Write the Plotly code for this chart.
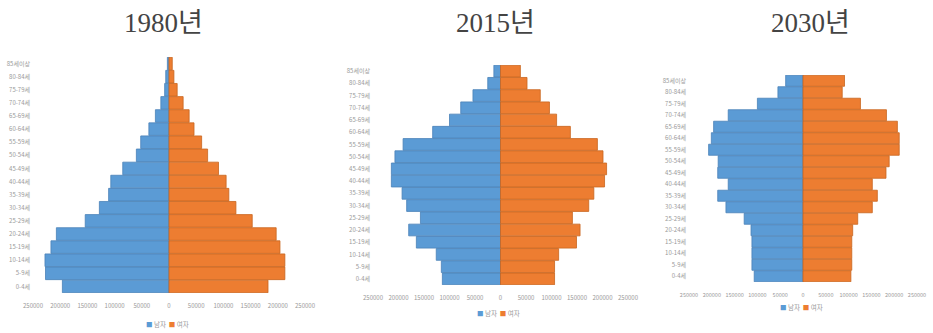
import plotly.graph_objects as go

# Age groups, bottom to top
ages = ["0-4세", "5-9세", "10-14세", "15-19세", "20-24세", "25-29세", "30-34세",
        "35-39세", "40-44세", "45-49세", "50-54세", "55-59세", "60-64세",
        "65-69세", "70-74세", "75-79세", "80-84세", "85세이상"]

years = ["1980년", "2015년", "2030년"]

male_1980 = [196000, 227000, 228000, 217000, 207000, 154000, 128000, 111000, 107000,
             85000, 60000, 52000, 37000, 25000, 15000, 8000, 6000, 3000]
female_1980 = [182000, 213000, 213000, 204000, 197000, 153000, 123000, 110000, 105000,
               91000, 71000, 60000, 46000, 37000, 26000, 15000, 9000, 6000]

male_2015 = [114000, 116000, 126000, 165000, 180000, 157000, 184000, 193000, 214000,
             214000, 207000, 191000, 133000, 100000, 78000, 54000, 25000, 13000]
female_2015 = [106000, 106000, 114000, 149000, 156000, 141000, 173000, 183000, 204000,
               208000, 201000, 190000, 137000, 110000, 96000, 78000, 52000, 39000]

male_2030 = [107000, 112000, 112000, 112000, 114000, 129000, 169000, 187000, 164000,
             187000, 186000, 207000, 201000, 196000, 164000, 100000, 55000, 38000]
female_2030 = [105000, 107000, 107000, 107000, 109000, 120000, 152000, 163000, 152000,
               182000, 189000, 211000, 211000, 207000, 183000, 126000, 86000, 91000]

tick_vals = [-250000, -200000, -150000, -100000, -50000, 0,
             50000, 100000, 150000, 200000, 250000]
tick_text = [str(abs(v)) for v in tick_vals]

series = [(male_1980, female_1980), (male_2015, female_2015), (male_2030, female_2030)]

W, H = 933, 333
# pixel layout of each panel: (x_left, x_right, y_top, y_bottom, title_x, legend_y, tick font)
panels = [
    (33, 305, 57, 293, 163, 324, 6),
    (373, 628, 65, 285, 495, 313, 6),
    (689, 917, 75, 282, 810, 307, 5.5),
]

BLUE, BLUE_EDGE = "#5B9BD5", "#4A82B8"
ORANGE, ORANGE_EDGE = "#ED7D31", "#C8661F"

fig = go.Figure()
layout = {}
annotations = []

for i, ((male, female), (xl, xr, yt, yb, tx, ly, fs)) in enumerate(zip(series, panels)):
    sfx = "" if i == 0 else str(i + 1)
    xa, ya = "x" + sfx, "y" + sfx
    fig.add_trace(go.Bar(
        y=ages, x=[-v for v in male], orientation="h", name="남자",
        marker=dict(color=BLUE, line=dict(color=BLUE_EDGE, width=0.8)),
        xaxis=xa, yaxis=ya, showlegend=False,
    ))
    fig.add_trace(go.Bar(
        y=ages, x=female, orientation="h", name="여자",
        marker=dict(color=ORANGE, line=dict(color=ORANGE_EDGE, width=0.8)),
        xaxis=xa, yaxis=ya, showlegend=False,
    ))
    layout["xaxis" + sfx] = dict(
        domain=[xl / W, xr / W], range=[-250000, 250000], anchor=ya,
        tickvals=tick_vals, ticktext=tick_text, showgrid=False, zeroline=False,
        showline=False, ticks="", tickfont=dict(size=fs, color="#999999"),
        ticklabelstandoff=8, ticklabeloverflow="allow", tickangle=0,
        automargin=False, fixedrange=True,
    )
    layout["yaxis" + sfx] = dict(
        domain=[1 - yb / H, 1 - yt / H], anchor=xa, type="category",
        categoryorder="array", categoryarray=ages, range=[-0.5, 17.5],
        showgrid=False, showline=False, ticks="", automargin=False,
        tickfont=dict(size=6, color="#999999"), ticklabelstandoff=2,
    )
    annotations.append(dict(
        text=years[i], x=tx / W, y=1 - 23 / H, xref="paper", yref="paper",
        xanchor="center", yanchor="middle", showarrow=False,
        font=dict(family="Liberation Serif, DejaVu Serif, Noto Sans CJK KR",
                  size=27, color="#444444"),
    ))
    annotations.append(dict(
        text=(f"<span style='color:{BLUE}'>■</span> 남자  "
              f"<span style='color:{ORANGE}'>■</span> 여자"),
        x=((xl + xr) / 2 - 2) / W, y=1 - ly / H, xref="paper", yref="paper",
        xanchor="center", yanchor="middle", showarrow=False,
        font=dict(family="Noto Sans CJK KR", size=6.5, color="#999999"),
    ))

fig.update_layout(
    width=W, height=H, margin=dict(l=0, r=0, t=0, b=0),
    paper_bgcolor="white", plot_bgcolor="white",
    barmode="relative", bargap=0.04,
    annotations=annotations,
    font=dict(family="Noto Sans CJK KR"),
    **layout,
)

fig.write_html("out.html")
